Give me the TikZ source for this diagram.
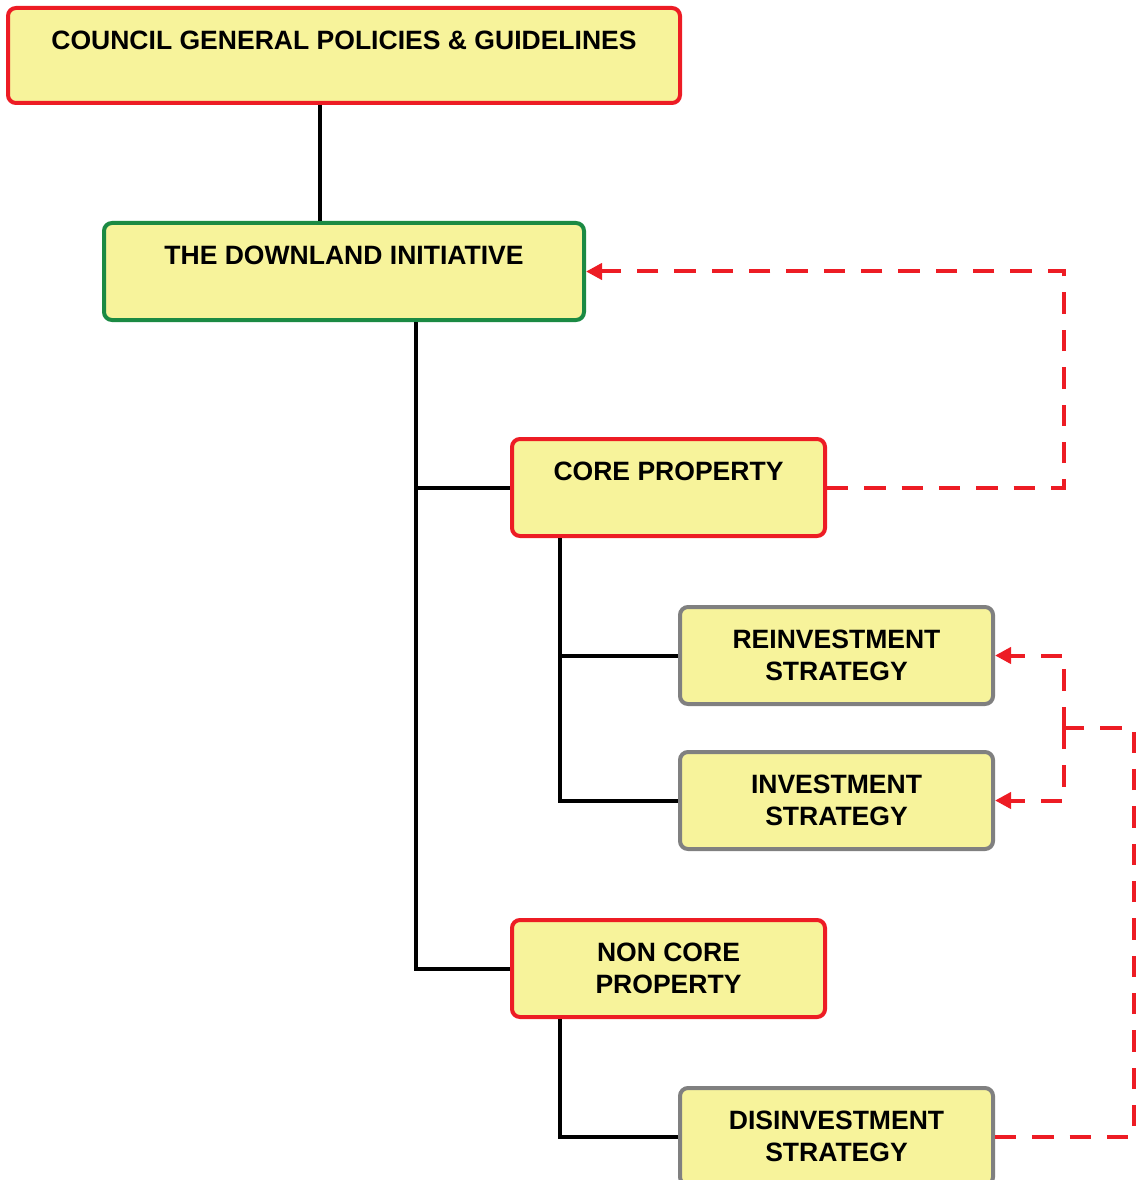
\documentclass[tikz,border=0pt]{standalone}
\usepackage{fontspec}
\setmainfont{Liberation Sans}
\usetikzlibrary{arrows.meta}
\definecolor{boxfill}{HTML}{F7F39B}
\definecolor{bred}{HTML}{ED1C24}
\definecolor{bgreen}{HTML}{1B8A43}
\definecolor{bgray}{HTML}{808080}
\begin{document}
\begin{tikzpicture}[x=0.75pt,y=-0.75pt,
  box/.style={draw, line width=3pt, fill=boxfill, rounded corners=6pt, inner sep=0pt, minimum height=72.75pt},
  redbox/.style={box, draw=bred},
  greenbox/.style={box, draw=bgreen},
  graybox/.style={box, draw=bgray},
  lbl/.style={anchor=north, inner sep=0pt, align=center, font=\fontsize{19.9}{24}\selectfont\bfseries},
  conn/.style={line width=3pt, black},
  rdash/.style={line width=3pt, bred, dash pattern=on 16pt off 12pt},
  rarrow/.style={rdash, -{Triangle[length=12pt,width=12pt]}}
]
\useasboundingbox (0,0) rectangle (1136,1180);

\node[redbox, minimum width=504pt, minimum height=71.25pt] (council) at (344,55.5) {};
\node[lbl] (councilt) at ([yshift=-18.3pt]council.north) {COUNCIL GENERAL POLICIES \& GUIDELINES};

\node[greenbox, minimum width=360pt] (dl) at (344,271.5) {};
\node[lbl] (dlt) at ([yshift=-18.3pt]dl.north) {THE DOWNLAND INITIATIVE};

\node[redbox, minimum width=234.75pt] (core) at (668.5,487.5) {};
\node[lbl] (coret) at ([yshift=-18.3pt]core.north) {CORE PROPERTY};

\node[graybox, minimum width=234.75pt] (reinv) at (836.5,655.5) {};
\node[lbl] (reinvt) at ([yshift=-18.3pt]reinv.north) {REINVESTMENT\\STRATEGY};

\node[graybox, minimum width=234.75pt] (inv) at (836.5,800.5) {};
\node[lbl] (invt) at ([yshift=-18.3pt]inv.north) {INVESTMENT\\STRATEGY};

\node[redbox, minimum width=234.75pt] (nc) at (668.5,968.5) {};
\node[lbl] (nct) at ([yshift=-18.3pt]nc.north) {NON CORE\\PROPERTY};

\node[graybox, minimum width=234.75pt] (dis) at (836.5,1136.5) {};
\node[lbl] (dist) at ([yshift=-18.3pt]dis.north) {DISINVESTMENT\\STRATEGY};

% black connectors
\coordinate (t0) at (320,0);
\coordinate (t1) at (416,0);
\coordinate (t2) at (560,0);
\draw[conn] (council.south -| t0) -- (dl.north -| t0);
\draw[conn] (dl.south -| t1) |- (nc.west);
\draw[conn] (core.west -| t1) -- (core.west);
\draw[conn] (core.south -| t2) |- (inv.west);
\draw[conn] (reinv.west -| t2) -- (reinv.west);
\draw[conn] (nc.south -| t2) |- (dis.west);

% red dashed connectors
\coordinate (xr) at (1064,0);
\coordinate (xf) at (1134,0);
\coordinate (j) at (1064,728);
\draw[rarrow] (core.east) -| (xr |- dl.east) -- (dl.east);
\draw[rdash] (dis.east) -| (xf |- j) -- (j);
\draw[rarrow] (j) |- (reinv.east);
\draw[rarrow] (j) |- (inv.east);
\end{tikzpicture}
\end{document}
